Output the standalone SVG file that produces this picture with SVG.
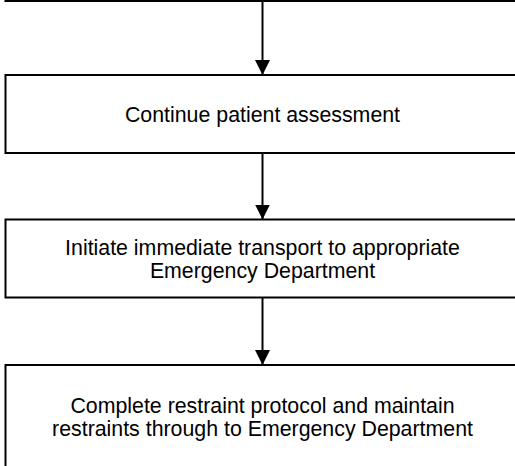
<svg xmlns="http://www.w3.org/2000/svg" width="515" height="466" viewBox="0 0 515 466">
<style>
.box{fill:#fff;stroke:#000;stroke-width:2}
.lbl{font-family:"Liberation Sans",Arial,sans-serif;font-size:21.33px;fill:#000;text-anchor:middle}
.edge{stroke:#000;stroke-width:2;fill:none}
</style>
<defs>
<marker id="ah" markerUnits="userSpaceOnUse" markerWidth="16" markerHeight="17" refX="15" refY="7.5" orient="auto">
<path d="M0,0 L15,7.5 L0,15 Z" fill="#000"/>
</marker>
</defs>
<rect width="515" height="466" fill="#fff"/>
<g id="prev"><rect class="box" x="5.5" y="-80" width="530" height="81"/></g>
<g id="n1"><rect class="box" x="5.5" y="75" width="530" height="78"/>
<text class="lbl" x="262.5" y="121.5">Continue patient assessment</text></g>
<g id="n2"><rect class="box" x="5.5" y="219.5" width="530" height="78"/>
<text class="lbl" x="262.5" y="254.5">Initiate immediate transport to appropriate</text>
<text class="lbl" x="262.5" y="278">Emergency Department</text></g>
<g id="n3"><rect class="box" x="5.5" y="365" width="530" height="110"/>
<text class="lbl" x="262.5" y="412.7">Complete restraint protocol and maintain</text>
<text class="lbl" x="262.5" y="436">restraints through to Emergency Department</text></g>
<g id="connectors">
<line class="edge" x1="262.5" y1="1" x2="262.5" y2="75" marker-end="url(#ah)"/>
<line class="edge" x1="262.5" y1="153" x2="262.5" y2="219.5" marker-end="url(#ah)"/>
<line class="edge" x1="262.5" y1="297.5" x2="262.5" y2="365" marker-end="url(#ah)"/>
</g>
</svg>
